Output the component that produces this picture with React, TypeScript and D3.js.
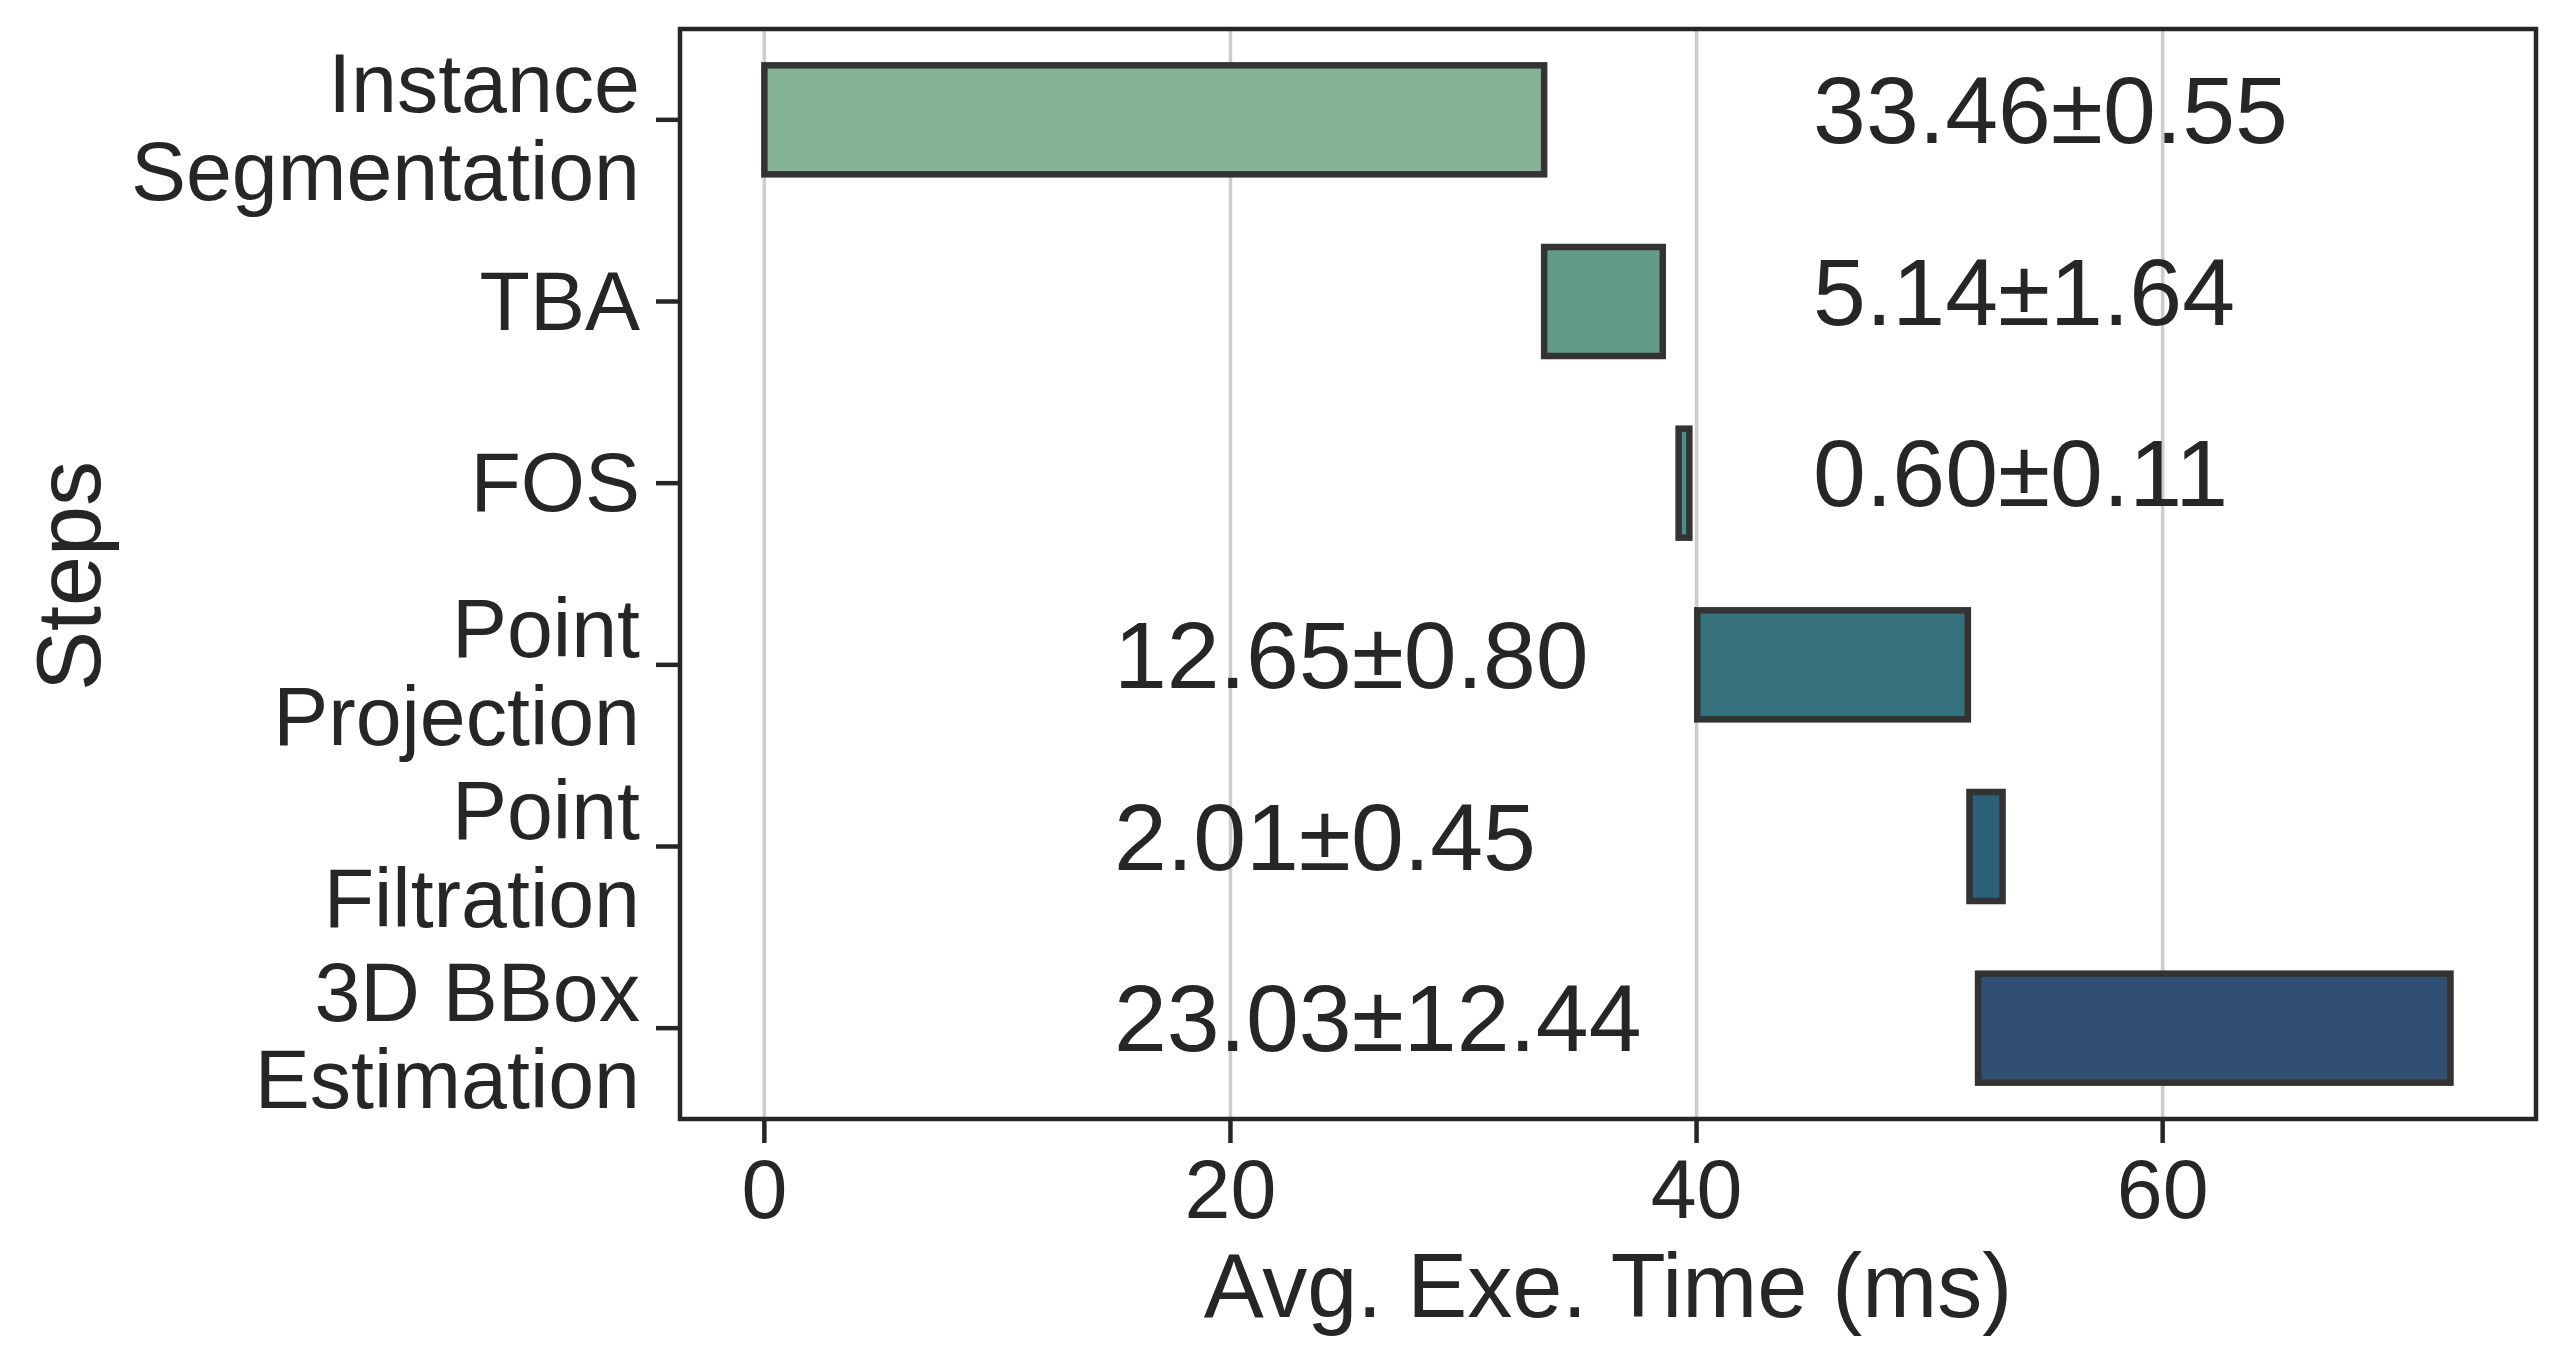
import React from "react";
import * as d3 from "d3";

const steps = [
  ["Instance", "Segmentation"],
  ["TBA"],
  ["FOS"],
  ["Point", "Projection"],
  ["Point", "Filtration"],
  ["3D BBox", "Estimation"],
];
const barStart = [0, 33.46, 39.23, 40.03, 51.71, 52.08];
const barEnd = [33.46, 38.55, 39.69, 51.64, 53.13, 72.35];
const valueLabels = ["33.46±0.55", "5.14±1.64", "0.60±0.11", "12.65±0.80", "2.01±0.45", "23.03±12.44"];
const labelX = [45, 45, 45, 15, 15, 15];
const barColors = ["#85b294", "#639b8a", "#4a8c87", "#36727e", "#2c5f7a", "#314f72"];
const xTicks = [0, 20, 40, 60];

const W = 2565;
const H = 1365;
const L = 680, R = 2536, T = 29, B = 1119;
const FONT = "'Liberation Sans', Arial, Helvetica, sans-serif";
const INK = "#262626";
const TICK_FS = 82.5;

export default function App() {
  const x = d3.scaleLinear().domain([-3.62, 76.02]).range([L, R]);
  const y = d3.scaleLinear().domain([-0.5, 5.5]).range([T, B]);
  const barH = y(0.3) - y(-0.3);

  return (
    <svg
      width={W}
      height={H}
      style={{ position: "absolute", left: 0, top: 0, display: "block", background: "#fff" }}
      fontFamily={FONT}
    >
      <rect x={0} y={0} width={W} height={H} fill="#fff" />
      {/* grid */}
      {xTicks.map((t) => (
        <line key={"g" + t} x1={x(t)} x2={x(t)} y1={T} y2={B} stroke="#cccccc" strokeWidth={3.5} />
      ))}
      {/* bars */}
      {steps.map((s, i) => (
        <rect
          key={"b" + i}
          x={x(barStart[i])}
          y={y(i) - barH / 2}
          width={x(barEnd[i]) - x(barStart[i])}
          height={barH}
          fill={barColors[i]}
          stroke="#333333"
          strokeWidth={6.5}
        />
      ))}
      {/* value labels */}
      {valueLabels.map((v, i) => (
        <text key={"v" + i} x={x(labelX[i])} y={y(i) + 23} fontSize={95} fill={INK}>
          {v}
        </text>
      ))}
      {/* frame */}
      <rect x={L} y={T} width={R - L} height={B - T} fill="none" stroke={INK} strokeWidth={4.5} />
      {/* x ticks */}
      {xTicks.map((t) => (
        <g key={"xt" + t}>
          <line x1={x(t)} x2={x(t)} y1={B} y2={B + 24} stroke={INK} strokeWidth={4.5} />
          <text x={x(t)} y={1218} textAnchor="middle" fontSize={TICK_FS} fill={INK}>
            {t}
          </text>
        </g>
      ))}
      {/* y ticks */}
      {steps.map((s, i) => (
        <g key={"yt" + i}>
          <line x1={L - 24} x2={L} y1={y(i)} y2={y(i)} stroke={INK} strokeWidth={4.5} />
          {s.length === 1 ? (
            <text x={640} y={y(i) + 28} textAnchor="end" fontSize={TICK_FS} fill={INK}>
              {s[0]}
            </text>
          ) : (
            <text x={640} y={y(i) - 7.5} textAnchor="end" fontSize={TICK_FS} fill={INK}>
              {s.map((line, j) => (
                <tspan key={j} x={640} dy={j === 0 ? 0 : 87.5}>
                  {line}
                </tspan>
              ))}
            </text>
          )}
        </g>
      ))}
      {/* axis labels */}
      <text x={(L + R) / 2} y={1317} textAnchor="middle" fontSize={90} fill={INK}>
        Avg. Exe. Time (ms)
      </text>
      <text
        transform={`translate(100, ${(T + B) / 2 + 2}) rotate(-90)`}
        textAnchor="middle"
        fontSize={90}
        fill={INK}
      >
        Steps
      </text>
    </svg>
  );
}
